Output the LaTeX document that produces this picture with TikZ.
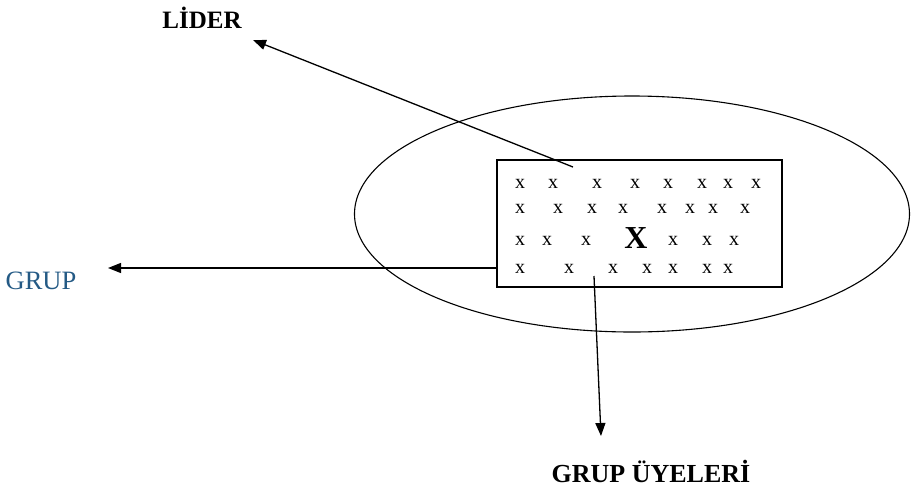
\documentclass[tikz,border=0pt]{standalone}
\usepackage{fontspec}
\setmainfont{Liberation Serif}
\usetikzlibrary{shapes.geometric,arrows.meta}
\definecolor{grupblue}{HTML}{245A85}
\begin{document}
\begin{tikzpicture}[x=1pt,y=-1pt,
  conn/.style={line width=1.3pt,-{Triangle[length=13pt,width=10pt]}},
  lbl/.style={inner sep=0pt,font=\fontsize{25}{30}\selectfont},
  member/.style={inner sep=0pt,font=\fontsize{20}{22}\selectfont}]
\useasboundingbox (0,0) rectangle (914,491);
% group boundary
\node[ellipse,draw,line width=1.1pt,minimum width=555pt,minimum height=236pt,inner sep=0pt] (grp) at (632,214) {};
% members box
\node[draw,line width=1.1pt,minimum width=285pt,minimum height=127pt,inner sep=0pt] (box) at (639.5,223.5) {};
% members
\foreach \xx [count=\i] in {520,553,597,635,668,702,728,756}
  \node[member] (ra\i) at (\xx,184) {x};
\foreach \xx [count=\i] in {520,558,592,623,662,690,713,745}
  \node[member] (rb\i) at (\xx,209) {x};
\foreach \xx [count=\i] in {520,547,586,673,707,734}
  \node[member] (rc\i) at (\xx,241) {x};
\node[inner sep=0pt,font=\fontsize{32}{36}\selectfont\bfseries] (leader) at (636,238) {X};
\foreach \xx [count=\i] in {520,569,613,647,673,707,728}
  \node[member] (rd\i) at (\xx,269) {x};
% labels
\node[lbl,font=\fontsize{25}{30}\selectfont\bfseries] (lider) at (202,18) {LİDER};
\node[lbl,font=\fontsize{26.5}{30}\selectfont,text=grupblue] (grup) at (41,281) {GRUP};
\node[lbl,font=\fontsize{26}{30}\selectfont\bfseries] (uyeler) at (651,471) {GRUP ÜYELERİ};
% arrow endpoints
\coordinate (lstart) at (573,167);
\coordinate (lend) at (253,40);
\coordinate (gstart) at (box.west |- 0,268);
\coordinate (gend) at (108,268);
\coordinate (ustart) at (594,276);
\coordinate (uend) at (601,436);
\draw[conn] (lstart) -- (lend);
\draw[conn] (gstart) -- (gend);
\draw[conn] (ustart) -- (uend);
\end{tikzpicture}
\end{document}
